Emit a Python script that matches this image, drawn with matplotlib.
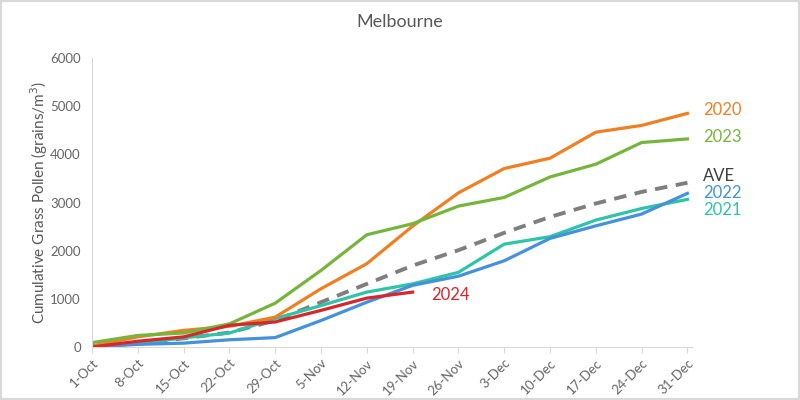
import matplotlib.pyplot as plt
from matplotlib.patches import Rectangle

plt.rcParams['font.family'] = ['Lato', 'DejaVu Sans']

dates = ['1-Oct', '8-Oct', '15-Oct', '22-Oct', '29-Oct', '5-Nov', '12-Nov', '19-Nov',
         '26-Nov', '3-Dec', '10-Dec', '17-Dec', '24-Dec', '31-Dec']

y2020 = [20, 210, 345, 430, 620, 1210, 1730, 2510, 3200, 3705, 3920, 4460, 4600, 4850]
y2021 = [0, 70, 190, 290, 590, 860, 1140, 1310, 1550, 2135, 2290, 2635, 2875, 3065]
y2022 = [0, 55, 80, 150, 195, 550, 930, 1280, 1470, 1790, 2255, 2515, 2760, 3190]
y2023 = [90, 240, 290, 480, 910, 1590, 2330, 2560, 2925, 3105, 3530, 3795, 4245, 4320]
y2024 = [0, 120, 210, 450, 520, 760, 1015, 1140]
ave = [10, 70, 180, 300, 550, 930, 1310, 1690, 2010, 2370, 2700, 2980, 3220, 3410]

c2020 = '#F07F22'
c2021 = '#2EC4A8'
c2022 = '#4591DB'
c2023 = '#76B53C'
c2024 = '#D9262B'
cave = '#7F7F7F'
txt = '#595959'

fig = plt.figure(figsize=(8, 4), dpi=100)
fig.patches.append(Rectangle((0, 0), 1, 1, transform=fig.transFigure, fill=False,
                             edgecolor='#D9D9D9', linewidth=3))
ax = fig.add_axes([0.115, 0.1325, 0.75, 0.7225])

x = list(range(len(dates)))
lw = 2.3
ax.plot(x, ave, color=cave, lw=2.8, ls=(0, (3.2, 2.2)))
ax.plot(x, y2021, color=c2021, lw=lw)
ax.plot(x, y2022, color=c2022, lw=lw)
ax.plot(x, y2020, color=c2020, lw=lw)
ax.plot(x, y2023, color=c2023, lw=lw)
ax.plot(x[:len(y2024)], y2024, color=c2024, lw=lw)

ax.set_xlim(0, 13.1)
ax.set_ylim(0, 6000)
ax.set_xticks(x)
ax.set_xticklabels(dates, rotation=45, ha='right', rotation_mode='anchor')
ax.set_yticks(range(0, 6001, 1000))
ax.tick_params(axis='both', colors='#D9D9D9', labelcolor='#666666', labelsize=9.5)
ax.tick_params(axis='y', length=0, pad=8)
ax.tick_params(axis='x', length=4, pad=3)
for s in ['top', 'right']:
    ax.spines[s].set_visible(False)
for s in ['left', 'bottom']:
    ax.spines[s].set_color('#D9D9D9')

ax.set_ylabel('Cumulative Grass Pollen (grains/m$^3$)', color=txt, fontsize=11, labelpad=0)
fig.text(0.5, 0.945, 'Melbourne', ha='center', va='center', color=txt, fontsize=13)

labels = [('2020', c2020, 4920), ('2023', c2023, 4360),
          ('AVE', '#404040', 3560), ('2022', c2022, 3200), ('2021', c2021, 2840)]
for name, col, ypos in labels:
    ax.text(13.35, ypos, name, color=col, fontsize=12, va='center', ha='left')
ax.text(7.4, 1080, '2024', color=c2024, fontsize=12, va='center', ha='left')

fig.savefig('out.png', dpi=100)
